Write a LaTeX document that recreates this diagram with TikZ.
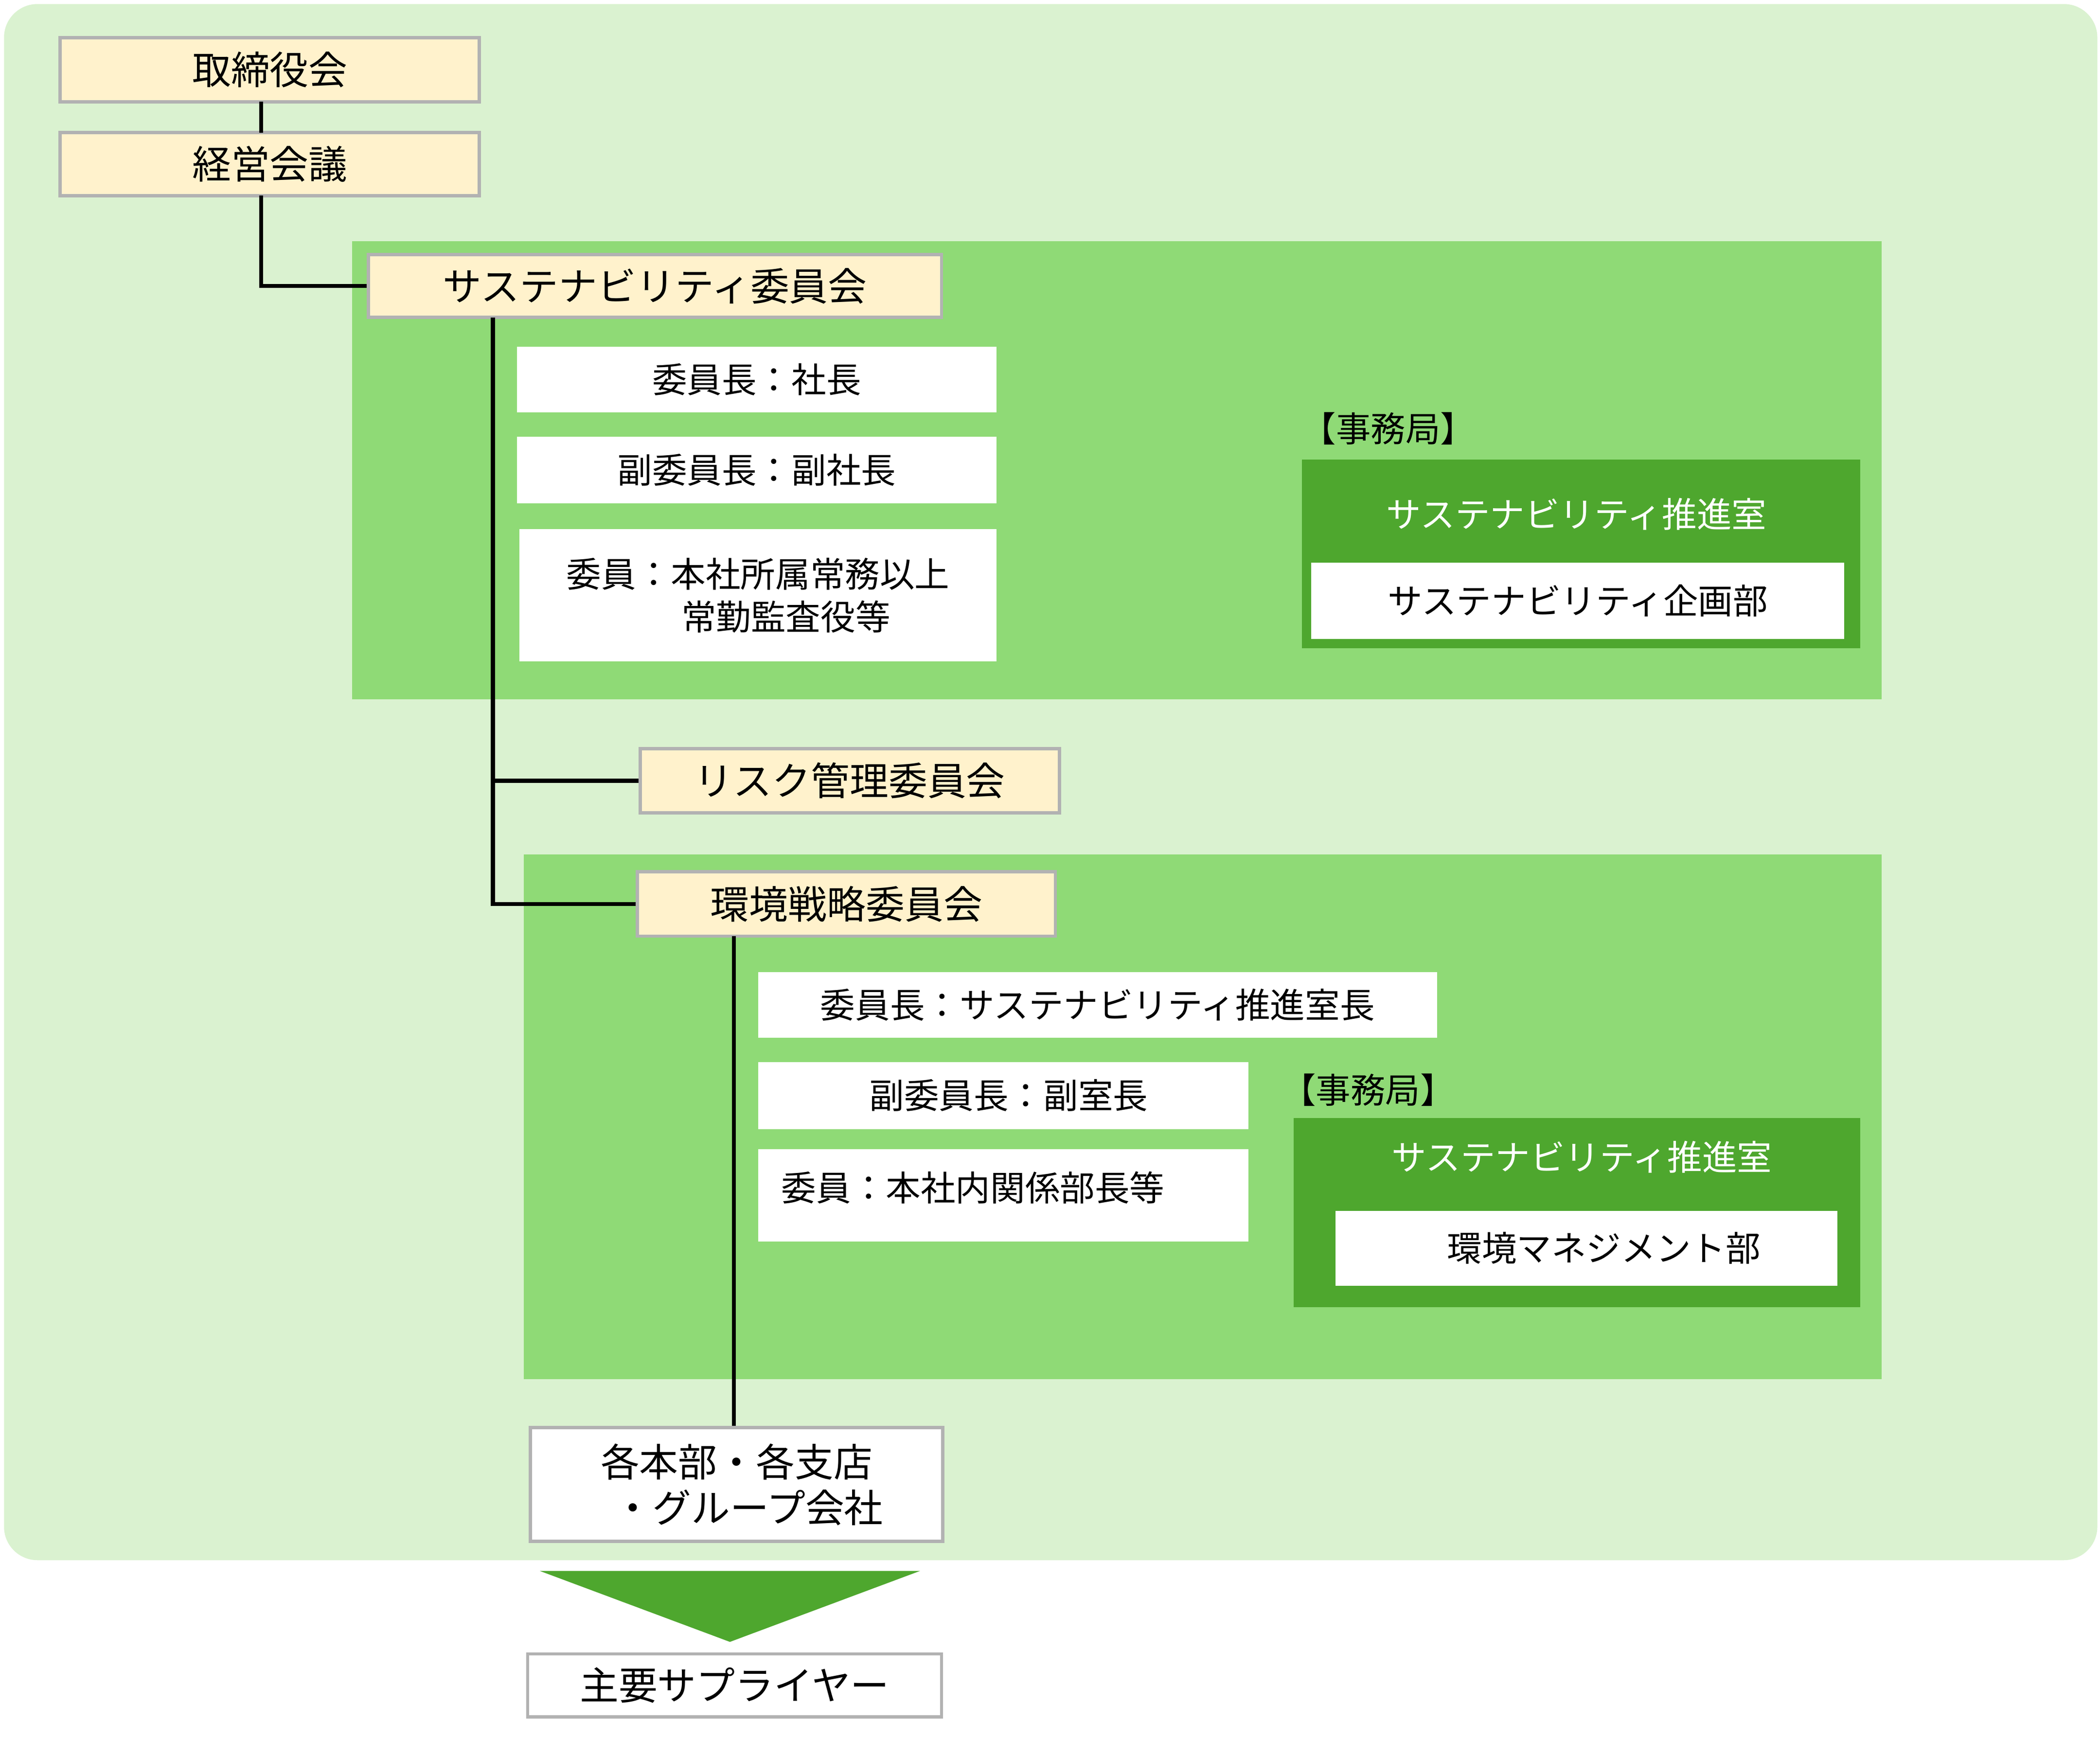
\documentclass[tikz,border=0pt]{standalone}
\usepackage{fontspec}
\setmainfont{Noto Sans CJK JP}
\begin{document}
\begin{tikzpicture}[x=1pt,y=-1pt,
 yb/.style={draw=black!30,line width=2.5pt,fill=yellow!20!orange!15!white,fill=cream},
 wb/.style={fill=white},
 gb/.style={draw=black!30,line width=2.5pt,fill=white},
 ln/.style={line width=3pt},
 big/.style={font=\fontsize{29}{34}\selectfont},
 mid/.style={font=\fontsize{26}{32}\selectfont}]
\definecolor{cream}{HTML}{FFF2CC}
\definecolor{bgl}{HTML}{DAF2D0}
\definecolor{pg}{HTML}{8FDA76}
\definecolor{dg}{HTML}{4EA72E}
\useasboundingbox (0,0) rectangle (1568,1299);
\fill[bgl,rounded corners=25pt] (3,3) rectangle (1566,1165);
\fill[pg] (263,180) rectangle (1405,522);
\fill[pg] (391,638) rectangle (1405,1030);
% top nodes
\node[yb,minimum width=313pt,minimum height=48pt,big] (tori) at (201.5,52) {取締役会};
\node[yb,minimum width=313pt,minimum height=47pt,big] (kei) at (201.5,122.5) {経営会議};
\draw[ln] (195,76) -- (195,99);
\node[yb,minimum width=428pt,minimum height=47pt,big] (sus) at (489,213.5) {サステナビリティ委員会};
\draw[ln] (195,146) |- (sus.west);
\node[wb,minimum width=358pt,minimum height=49pt,mid] (a1) at (565,283.5) {委員長：社長};
\node[wb,minimum width=358pt,minimum height=50pt,mid] (a2) at (565,351) {副委員長：副社長};
\node[wb,minimum width=356pt,minimum height=99pt,mid,align=left] (a3) at (566,444.5) {委員：本社所属常務以上\\\hspace*{3.3em}常勤監査役等};
\node[mid,anchor=west] (j1) at (968,320) {【事務局】};
\fill[dg] (972,343) rectangle (1389,484);
\node[mid,text=white] (s1) at (1177,384) {サステナビリティ推進室};
\node[wb,minimum width=398pt,minimum height=57pt,mid] (k1) at (1178,448.5) {サステナビリティ企画部};
\node[yb,minimum width=313pt,minimum height=48pt,big] (risk) at (634.5,583) {リスク管理委員会};
\node[yb,minimum width=312pt,minimum height=48pt,big] (env) at (632,675) {環境戦略委員会};
\coordinate (v1) at (368,237);
\draw[ln] (368,237) -- (368,675) -- (env.west);
\draw[ln] (368,583) -- (risk.west);
\node[wb,minimum width=507pt,minimum height=49pt,mid] (b1) at (819.5,750.5) {委員長：サステナビリティ推進室長};
\node[wb,minimum width=366pt,minimum height=50pt,mid,anchor=west] (b2) at (566,818) {\hspace*{0.3em}副委員長：副室長};
\fill[white] (566,858) rectangle (932,927);
\node[mid,anchor=west] (b3) at (580,887) {委員：本社内関係部長等};
\node[mid,anchor=west] (j2) at (953,814) {【事務局】};
\fill[dg] (966,835) rectangle (1389,976);
\node[mid,text=white] (s2) at (1181,864) {サステナビリティ推進室};
\node[wb,minimum width=375pt,minimum height=56pt,mid] (k2) at (1184.5,932) {\hspace*{1em}環境マネジメント部};
\node[gb,minimum width=308pt,minimum height=85pt,big,align=center] (hq) at (550,1108.5) {各本部・各支店\\\hspace*{0.6em}・グループ会社};
\draw[ln] (548,699) -- (hq.north -| 548,0);
\fill[dg] (403,1173) -- (687,1173) -- (545,1226) -- cycle;
\node[gb,minimum width=309pt,minimum height=47pt,big] (sup) at (548.5,1258.5) {主要サプライヤー};
\end{tikzpicture}
\end{document}
